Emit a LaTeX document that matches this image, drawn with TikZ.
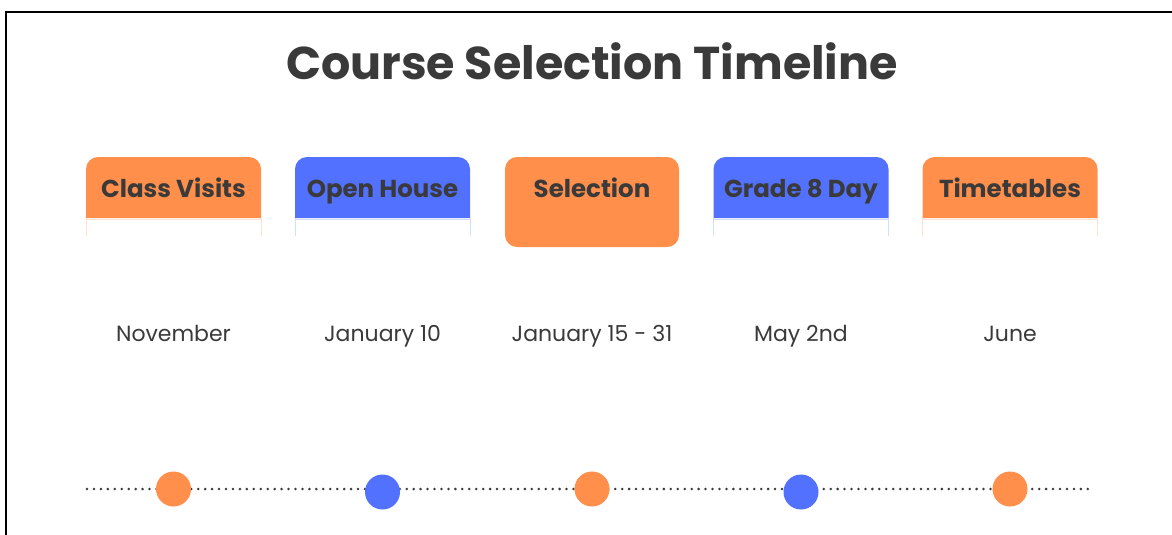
\documentclass[tikz,border=0pt]{standalone}
\usepackage{fontspec}
\setmainfont{Poppins}
\definecolor{orng}{HTML}{FF8F4B}
\definecolor{blu}{HTML}{5271FF}
\definecolor{ink}{HTML}{3A3A3A}
\begin{document}
\begin{tikzpicture}[x=1pt,y=-1pt,
  tabtext/.style={text=ink, font=\fontsize{24.5}{28}\selectfont\bfseries, anchor=base},
  datetext/.style={text=ink, font=\fontsize{22}{26}\selectfont, anchor=base},
  dot/.style={circle, fill=#1, minimum size=35pt, inner sep=0pt},
  faint/.style={draw=#1!25, line width=0.6pt}]
\useasboundingbox (0,0) rectangle (1172,535);
\fill[white] (0,0) rectangle (1172,535);
\draw[line width=1.5pt, black] (6,536) -- (6,12) -- (1173,12);
\node[text=ink, font=\fontsize{46}{50}\selectfont\bfseries, anchor=base] (title) at (592,79) {Course Selection Timeline};
% tabs
\foreach \cx/\col in {173.5/orng, 382.5/blu, 801/blu, 1010/orng}{
  \fill[\col] (\cx-87.5,218) {[rounded corners=12pt] -- (\cx-87.5,157) -- (\cx+87.5,157)} -- (\cx+87.5,218) -- cycle;
  \draw[faint=\col] (\cx-87.5,218) -- (\cx-87.5,236);
  \draw[faint=\col] (\cx+87.5,218) -- (\cx+87.5,236);
  \draw[faint=\col] (\cx-87.5,219) -- (\cx+87.5,219);
}
\fill[orng, rounded corners=12pt] (505,157) rectangle (679,247);
\node[tabtext] (ta) at (173.5,197) {Class Visits};
\node[tabtext] (tb) at (382.5,197) {Open House};
\node[tabtext] (tc) at (592,197) {Selection};
\node[tabtext] (td) at (801,197) {Grade 8 Day};
\node[tabtext] (te) at (1010,197) {Timetables};
% dates
\node[datetext] (da) at (173.5,341) {November};
\node[datetext] (db) at (382.5,341) {January 10};
\node[datetext] (dc) at (592,341) {January 15 - 31};
\node[datetext] (dd) at (801,341) {May 2nd};
\node[datetext] (de) at (1010,341) {June};
% timeline
\coordinate (ls) at (87,489);
\coordinate (le) at (1094,489);
\draw[ink, line width=2.8pt, line cap=round, dash pattern=on 0pt off 6.95pt] (ls) -- (le);
\node[dot=orng] (ca) at (173.5,489) {};
\node[dot=blu] (cb) at (382.5,492) {};
\node[dot=orng] (cc) at (592,489) {};
\node[dot=blu] (cd) at (801,492) {};
\node[dot=orng] (ce) at (1010,489) {};
\end{tikzpicture}
\end{document}
